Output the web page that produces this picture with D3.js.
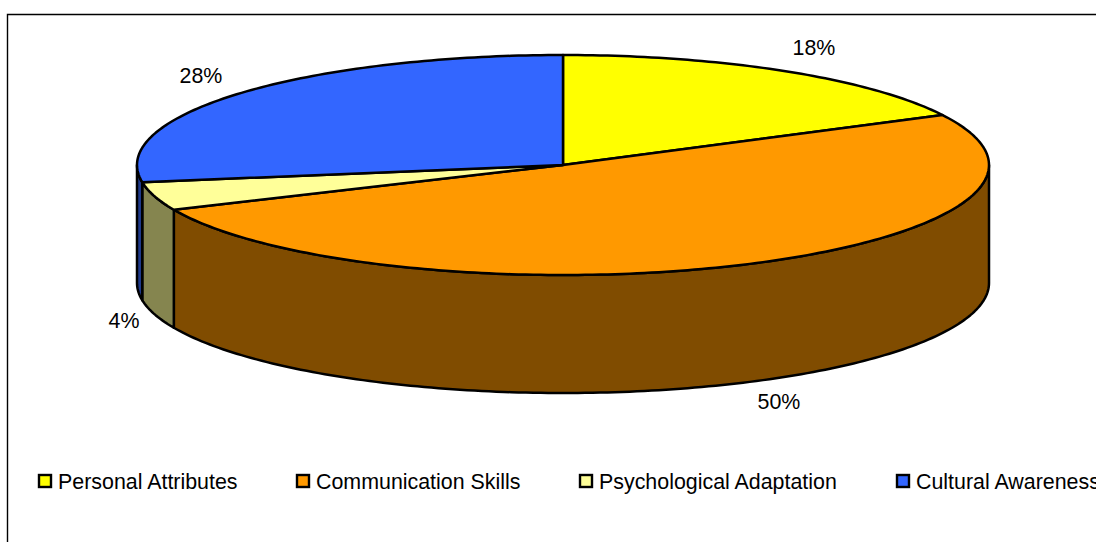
<!DOCTYPE html>
<html><head><meta charset="utf-8">
<style>html,body{margin:0;padding:0;background:#fff;overflow:hidden}svg{display:block}text{font-family:"Liberation Sans",Arial,sans-serif;fill:#000}</style>
<script src="https://cdn.jsdelivr.net/npm/d3@7"></script>
</head><body><svg id="c" width="1096" height="542"></svg>
<script>
const categories = ["Personal Attributes","Communication Skills","Psychological Adaptation","Cultural Awareness"];
const percents = [18,50,4,28];
const topColors = ["#FFFF00","#FF9900","#FFFF99","#3366FF"];
const sideColors = ["#808000","#804C00","#85854F","#1F3A8C"];
const labelPos = [[814,48],[779,402],[124,321],[201,76]];
const legendX = [38,296,579,896];

const W=1096,H=542,cx=563,cy=165,rx=426,ry=110,depth=118;
const svg=d3.select("#c");
// Rendered 3-D perspective: share of the pie -> drawn angle on the tilted disc
const angle=d3.scaleLinear().domain([0,18,68,72,100]).range([0,63,246,261,360]);
const rad=d=>d*Math.PI/180;
const px=t=>cx+rx*Math.sin(rad(t)), py=t=>cy-ry*Math.cos(rad(t));
const pts=(a,b)=>{const n=Math.max(2,Math.ceil(Math.abs(b-a)));return d3.range(n+1).map(i=>a+(b-a)*i/n);};
const line=d3.line().curve(d3.curveLinear);

// frame
svg.append("path").attr("d",`M7.5 ${H}V14.5H${W}`).attr("fill","none").attr("stroke","#000").attr("stroke-width",1.4);

let c=0;
const slices=percents.map((v,i)=>{const s={i,a:angle(c),b:angle(c+v)};c+=v;return s;});
const g=svg.append("g").attr("stroke","#000").attr("stroke-width",2.5).attr("stroke-linejoin","round");

// side walls (front half only: 90..270 degrees)
slices.forEach(s=>{
  const a=Math.max(s.a,90),b=Math.min(s.b,270);
  if(b<=a)return;
  const low=pts(a,b).map(t=>[px(t),py(t)+depth]);
  const up=pts(b,a).map(t=>[px(t),py(t)]);
  g.append("path").attr("d",line(low.concat(up))+"Z").attr("fill",sideColors[s.i]);
});
// top face
slices.forEach(s=>{
  const p=[[cx,cy]].concat(pts(s.a,s.b).map(t=>[px(t),py(t)]));
  g.append("path").attr("d",line(p)+"Z").attr("fill",topColors[s.i]);
});

// percent labels
svg.selectAll("text.pct").data(percents).join("text").attr("class","pct")
  .attr("x",(d,i)=>labelPos[i][0]).attr("y",(d,i)=>labelPos[i][1]+7)
  .attr("text-anchor","middle").attr("font-size",21.4).text(d=>d+"%");

// legend
const lg=svg.selectAll("g.lg").data(categories).join("g").attr("class","lg")
  .attr("transform",(d,i)=>`translate(${legendX[i]},0)`);
lg.append("rect").attr("x",1).attr("y",475).attr("width",12).attr("height",12)
  .attr("fill",(d,i)=>topColors[i]).attr("stroke","#000").attr("stroke-width",2.4);
lg.append("text").attr("x",20).attr("y",489).attr("font-size",21.4).text(d=>d);
</script></body></html>
